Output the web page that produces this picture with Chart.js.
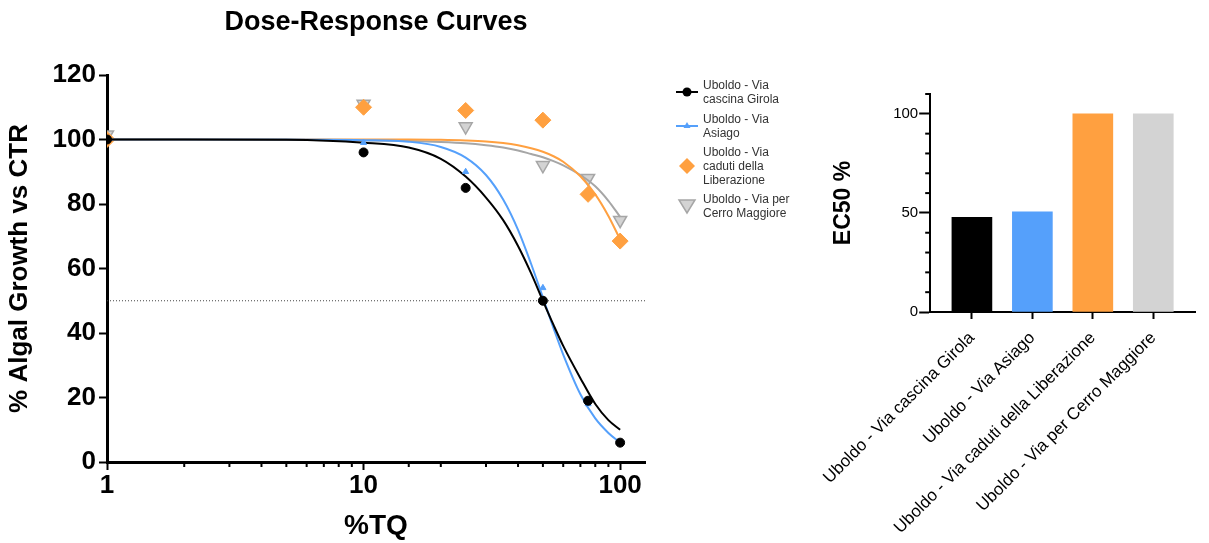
<!DOCTYPE html>
<html>
<head>
<meta charset="utf-8">
<script src="https://cdn.jsdelivr.net/npm/chart.js@4"></script>
<style>
  html, body { margin: 0; padding: 0; background: #fff; }
  body { width: 1209px; height: 543px; position: relative; overflow: hidden; font-family: Arial, "Liberation Sans", sans-serif; }
  #doseWrap { position: absolute; left: 0; top: 0; width: 800px; height: 543px; }
  #ec50Wrap { position: absolute; left: 797px; top: 0; width: 412px; height: 543px; }
  #title { position: absolute; left: 176px; width: 400px; top: 6px; text-align: center; font-weight: bold; font-size: 27px; color: #000; }
  .leg { position: absolute; left: 676px; font-size: 12px; line-height: 14px; color: #333; }
  .leg svg { position: absolute; left: 0; }
  .leg span { position: absolute; left: 27px; white-space: nowrap; }
</style>
</head>
<body>
<div id="doseWrap"><canvas id="doseChart" width="800" height="543"></canvas></div>
<div id="ec50Wrap"><canvas id="ec50Chart" width="412" height="543"></canvas></div>
<div id="title">Dose-Response Curves</div>
<div id="legend"></div>
<script>
// 시리즈 이름
const seriesNames = [
  "Uboldo - Via cascina Girola",
  "Uboldo - Via Asiago",
  "Uboldo - Via caduti della Liberazione",
  "Uboldo - Via per Cerro Maggiore",
]
const legendLines = [
  ["Uboldo - Via", "cascina Girola"],
  ["Uboldo - Via", "Asiago"],
  ["Uboldo - Via", "caduti della", "Liberazione"],
  ["Uboldo - Via per", "Cerro Maggiore"],
]

// 측정값 (%TQ 농도별)
const doses = [1, 10, 25, 50, 75, 100]
const girolaPts = [100, 96, 85, 50, 19, 6]
const asiagoPts = [100, 99, 90, 54, 18, 6]
const cadutiPts = [100, 110, 109, 106, 83, 68.5]
const cerroPts = [101.5, 111, 104, 92, 88, 75]

// 피팅 곡선
const curveDoses = [1, 2, 5, 10, 15, 20, 25, 30, 35, 40, 45, 50, 55, 60, 70, 80, 90, 100]
const girolaCurve = [100, 100, 99.9, 99, 97.5, 94, 88.5, 82, 75, 67, 58.5, 50, 42.5, 36, 26, 18, 13, 10]
const asiagoCurve = [100, 100, 100, 99.8, 99.3, 97.7, 94.4, 89, 81.4, 72, 61.4, 51, 41.5, 33.3, 21, 13.5, 9, 6]
const cadutiCurve = [100, 100, 100, 100, 100, 99.9, 99.7, 99.4, 98.9, 98.2, 97.3, 96.2, 94.8, 93.1, 88.6, 83, 76.3, 69]
const cerroCurve = [100, 100, 99.9, 99.7, 99.5, 99.2, 98.8, 98.2, 97.5, 96.6, 95.5, 94.5, 93.3, 92, 89, 85.5, 81, 76]
const halfLine = 50

// EC50 막대
const ec50Values = [47.8, 50.5, 100, 100]

// 색상
const colBlack = "#000000"
const colBlue = "#55a0fb"
const colOrange = "#ffa040"
const colGray = "#a6a6a6"
const colGrayFill = "#d3d3d3"

const FONT = "Arial, 'Liberation Sans', sans-serif"

function pts(xs, ys) {
  return xs.map((x, i) => ({ x: x, y: ys[i] }))
}

function curveSet(data, color, order) {
  return {
    type: "line",
    data: data,
    borderColor: color,
    borderWidth: 2,
    pointRadius: 0,
    fill: false,
    cubicInterpolationMode: "monotone",
    order: order,
  }
}

// 보조 눈금 (짧은 tick) 그리기
const minorTicks = {
  id: "minorTicks",
  afterDraw(chart, args, opts) {
    const ctx = chart.ctx
    ;(opts.scales || []).forEach((def) => {
      const scale = chart.scales[def.id]
      if (!scale) return
      ctx.save()
      ctx.strokeStyle = "#000"
      ctx.lineWidth = def.width || 2
      scale.ticks.forEach((t) => {
        if (def.isMajor(t.value)) return
        const p = scale.getPixelForValue(t.value)
        ctx.beginPath()
        if (scale.isHorizontal()) {
          ctx.moveTo(p, scale.top)
          ctx.lineTo(p, scale.top + def.len)
        } else {
          ctx.moveTo(scale.right, p)
          ctx.lineTo(scale.right - def.len, p)
        }
        ctx.stroke()
      })
      ctx.restore()
    })
  },
}

const isDecade = (v) => [1, 10, 100].includes(v)
const isFifty = (v) => v % 50 === 0

const doseCtx = document.getElementById("doseChart")
new Chart(doseCtx, {
  type: "scatter",
  plugins: [minorTicks],
  data: {
    datasets: [
      { data: pts(doses, girolaPts), pointStyle: "circle", pointRadius: 4.5, backgroundColor: colBlack, borderColor: colBlack, borderWidth: 1, order: 1 },
      { data: pts(doses, asiagoPts), pointStyle: "triangle", pointRadius: 3.5, backgroundColor: colBlue, borderColor: colBlue, borderWidth: 1, order: 2 },
      { data: pts(doses, cadutiPts), pointStyle: "rectRot", pointRadius: 8, backgroundColor: colOrange, borderColor: colOrange, borderWidth: 1, order: 6 },
      { data: pts(doses, cerroPts), pointStyle: "triangle", rotation: 180, pointRadius: 7.5, backgroundColor: colGrayFill, borderColor: colGray, borderWidth: 1.5, order: 7 },
      curveSet(pts(curveDoses, girolaCurve), colBlack, 3),
      curveSet(pts(curveDoses, asiagoCurve), colBlue, 4),
      curveSet(pts(curveDoses, cadutiCurve), colOrange, 5),
      curveSet(pts(curveDoses, cerroCurve), colGray, 5.5),
      {
        type: "line",
        data: [{ x: 1, y: halfLine }, { x: 125, y: halfLine }],
        borderColor: "#444",
        borderWidth: 1,
        borderDash: [1, 2],
        pointRadius: 0,
        order: 10,
      },
    ],
  },
  options: {
    responsive: false,
    animation: false,
    layout: { padding: { left: 0, right: 155, top: 75, bottom: 0 } },
    plugins: {
      legend: { display: false },
      tooltip: { enabled: false },
      minorTicks: { scales: [{ id: "x", len: 5, width: 2, isMajor: isDecade }] },
    },
    scales: {
      x: {
        type: "logarithmic",
        min: 1,
        max: 125,
        afterBuildTicks: (scale) => {
          scale.ticks = scale.ticks.filter((t) => t.value <= 100)
        },
        afterFit: (scale) => { scale.height = 81 },
        border: { display: true, width: 3, color: "#000" },
        grid: {
          drawOnChartArea: false,
          drawTicks: true,
          tickLength: 8,
          tickWidth: 2,
          tickColor: (c) => (c.tick && isDecade(c.tick.value) ? "#000" : "rgba(0,0,0,0)"),
        },
        ticks: {
          autoSkip: false,
          maxRotation: 0,
          padding: 0,
          color: "#000",
          font: { family: FONT, size: 26, weight: "bold" },
          callback: (v) => (isDecade(v) ? String(v) : ""),
        },
        title: {
          display: true,
          text: "%TQ",
          color: "#000",
          font: { family: FONT, size: 28, weight: "bold" },
          padding: { top: 0, bottom: 0 },
        },
      },
      y: {
        min: 0,
        max: 120,
        afterFit: (scale) => { scale.width = 107 },
        border: { display: true, width: 3, color: "#000" },
        grid: { drawOnChartArea: false, drawTicks: true, tickLength: 8, tickWidth: 2, tickColor: "#000" },
        ticks: {
          stepSize: 20,
          padding: 3,
          color: "#000",
          font: { family: FONT, size: 26, weight: "bold" },
        },
        title: {
          display: true,
          text: "% Algal Growth vs CTR",
          color: "#000",
          font: { family: FONT, size: 26, weight: "bold" },
          padding: { top: 4, bottom: 0 },
        },
      },
    },
  },
})

const ec50Ctx = document.getElementById("ec50Chart")
const barColors = [colBlack, colBlue, colOrange, colGrayFill]
new Chart(ec50Ctx, {
  type: "bar",
  plugins: [minorTicks],
  data: {
    datasets: [
      {
        data: ec50Values.map((v, i) => ({ x: i, y: v })),
        backgroundColor: barColors,
        borderWidth: 0,
        barThickness: 40,
      },
    ],
  },
  options: {
    responsive: false,
    animation: false,
    layout: { padding: { left: 0, right: 14, top: 94, bottom: 0 } },
    plugins: {
      legend: { display: false },
      tooltip: { enabled: false },
      minorTicks: { scales: [{ id: "y", len: 5, width: 2, isMajor: isFifty }] },
    },
    scales: {
      x: {
        type: "linear",
        min: -0.69,
        max: 3.69,
        offset: false,
        afterBuildTicks: (scale) => {
          scale.ticks = seriesNames.map((n, i) => ({ value: i }))
        },
        afterFit: (scale) => { scale.height = 231 },
        border: { display: true, width: 2, color: "#000" },
        grid: { offset: false, drawOnChartArea: false, drawTicks: true, tickLength: 7, tickWidth: 2, tickColor: "#000" },
        ticks: {
          autoSkip: false,
          minRotation: 45,
          maxRotation: 45,
          padding: 9,
          color: "#000",
          font: { family: FONT, size: 17 },
          callback: (v) => seriesNames[v] || "",
        },
      },
      y: {
        min: 0,
        max: 110,
        afterFit: (scale) => { scale.width = 130 },
        border: { display: true, width: 2, color: "#000" },
        grid: {
          drawOnChartArea: false,
          drawTicks: true,
          tickLength: 11,
          tickWidth: 2,
          tickColor: (c) => (c.tick && isFifty(c.tick.value) ? "#000" : "rgba(0,0,0,0)"),
        },
        ticks: {
          stepSize: 10,
          autoSkip: false,
          padding: 1,
          color: "#000",
          font: { family: FONT, size: 15 },
          callback: (v) => (isFifty(v) ? String(v) : ""),
        },
        title: {
          display: true,
          text: "EC50 %",
          color: "#000",
          font: { family: FONT, size: 23, weight: "bold" },
          padding: { top: 30, bottom: 0 },
        },
      },
    },
  },
})

// 범례 (HTML)
const legendTops = [78, 112, 145, 192]
const legendMarkers = [
  '<line x1="0" y1="7" x2="22" y2="7" stroke="#000" stroke-width="2"/><circle cx="11" cy="7" r="4.5" fill="#000"/>',
  '<line x1="0" y1="7" x2="22" y2="7" stroke="' + colBlue + '" stroke-width="2"/><polygon points="11,3 14.5,9 7.5,9" fill="' + colBlue + '"/>',
  '<polygon points="11,-1 19,7 11,15 3,7" fill="' + colOrange + '"/>',
  '<polygon points="3,1 19,1 11,14" fill="' + colGrayFill + '" stroke="' + colGray + '" stroke-width="1.5"/>',
]
const legendEl = document.getElementById("legend")
legendLines.forEach((lines, i) => {
  const item = document.createElement("div")
  item.className = "leg"
  item.style.top = legendTops[i] + "px"
  const h = lines.length * 14
  const markerTop = h / 2 - 7
  let html = '<svg width="24" height="16" style="top:' + markerTop + 'px;overflow:visible">' + legendMarkers[i] + "</svg>"
  lines.forEach((t, j) => {
    html += '<span style="top:' + j * 14 + 'px">' + t + "</span>"
  })
  item.innerHTML = html
  legendEl.appendChild(item)
})
</script>
</body>
</html>
